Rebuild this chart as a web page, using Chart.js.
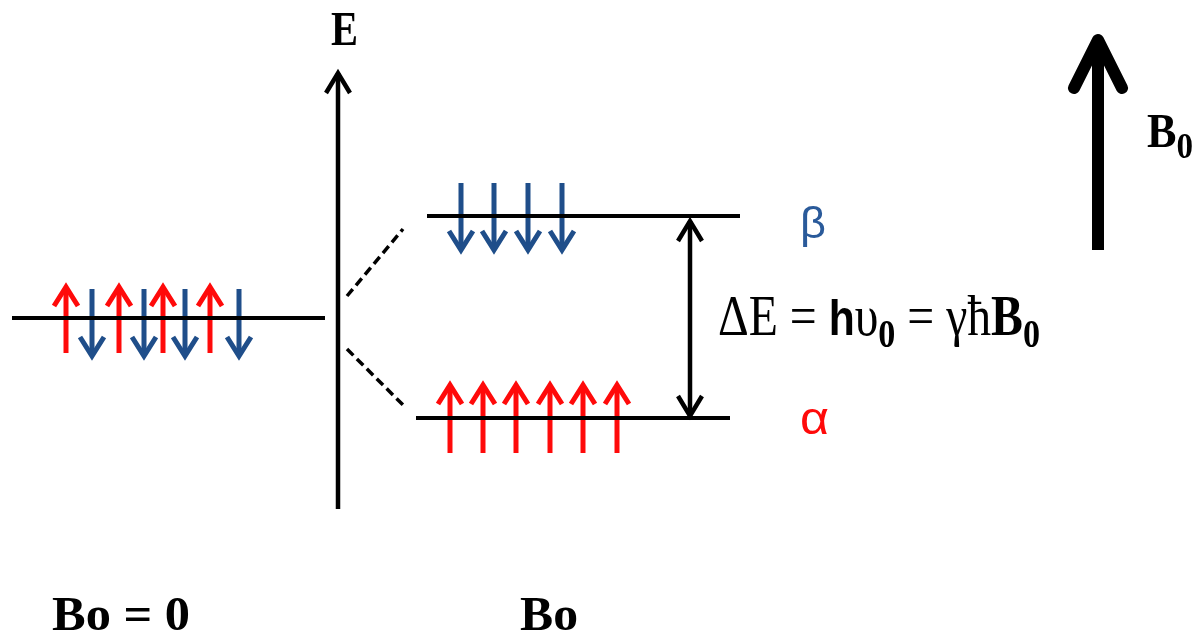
<!DOCTYPE html>
<html><head><meta charset="utf-8">
<script src="https://cdn.jsdelivr.net/npm/chart.js@4"></script>
<style>html,body{margin:0;padding:0;background:#fff}canvas{display:block}</style>
</head><body>
<canvas id="c" width="1203" height="633"></canvas>
<script>
// ---- diagram data (diagram coordinate units) ----
const levelZero = [[12, 318], [325, 318]];
const levelBeta = [[427, 216], [740, 216]];
const levelAlpha = [[416, 418], [730, 418]];
const splitUpper = [[347, 296], [403, 229]];
const splitLower = [[347, 349], [403, 405]];
const energyAxis = [[338, 509], [338, 73]];
const deltaArrow = [[690, 221], [690, 416]];
const fieldArrow = [[1098, 250], [1098, 40]];

const spinsZeroUpX = [66, 119, 163, 210];
const spinsZeroUpY = [353, 287];
const spinsZeroDownX = [92, 144, 185, 239];
const spinsZeroDownY = [289, 356];
const spinsBetaX = [461, 494, 528, 562];
const spinsBetaY = [183, 250];
const spinsAlphaX = [450, 483, 516, 550, 583, 617];
const spinsAlphaY = [453, 385];

const labelE = 'E';
const labelBeta = 'β';
const labelAlpha = 'α';
const labelFormula = ['ΔE = ', 'h', 'υ', '0', ' = γħ', 'B', '0'];
const labelField = ['B', '0'];
const labelZeroField = 'Bo = 0';
const labelField2 = 'Bo';

const RED = '#ff0a0a';
const BLUE = '#1f4e8a';
const BLACK = '#000000';

function pts(arr) { return arr.map(([x, y]) => ({x, y})); }
function lineDs(arr, color, width, extra) {
  return Object.assign({
    data: pts(arr), showLine: true, borderColor: color, backgroundColor: color,
    borderWidth: width, pointRadius: 0, pointHoverRadius: 0, fill: false, tension: 0,
    borderCapStyle: 'butt'
  }, extra || {});
}

const datasets = [];
datasets.push(lineDs(levelZero, BLACK, 4));
datasets.push(lineDs(levelBeta, BLACK, 4));
datasets.push(lineDs(levelAlpha, BLACK, 4));
datasets.push(lineDs(splitUpper, BLACK, 3.5, {borderDash: [9, 5]}));
datasets.push(lineDs(splitLower, BLACK, 3.5, {borderDash: [9, 5]}));
datasets.push(lineDs(energyAxis, BLACK, 4.5, {head: 'end', headHalf: 12, headLen: 20, headWidth: 4.5}));
datasets.push(lineDs(deltaArrow, BLACK, 4.5, {head: 'both', headHalf: 12, headLen: 20, headWidth: 4.5}));
datasets.push(lineDs(fieldArrow, BLACK, 12, {head: 'end', headHalf: 24, headLen: 48, headWidth: 12, headCap: 'round'}));

function spinSet(xs, ys, color) {
  xs.forEach(x => datasets.push(lineDs([[x, ys[0]], [x, ys[1]]], color, 5,
    {head: 'end', headHalf: 12, headLen: 19, headWidth: 5})));
}
spinSet(spinsZeroUpX, spinsZeroUpY, RED);
spinSet(spinsZeroDownX, spinsZeroDownY, BLUE);
spinSet(spinsBetaX, spinsBetaY, BLUE);
spinSet(spinsAlphaX, spinsAlphaY, RED);

const arrowHeads = {
  id: 'arrowHeads',
  afterDatasetsDraw(chart) {
    const ctx = chart.ctx;
    chart.data.datasets.forEach((ds, i) => {
      if (!ds.head) return;
      const meta = chart.getDatasetMeta(i);
      const p = meta.data;
      const draw = (tip, from) => {
        const dx = tip.x - from.x, dy = tip.y - from.y;
        const L = Math.hypot(dx, dy) || 1;
        const ux = dx / L, uy = dy / L, nx = -uy, ny = ux;
        const bx = tip.x - ux * ds.headLen, by = tip.y - uy * ds.headLen;
        ctx.save();
        ctx.strokeStyle = ds.borderColor;
        ctx.lineWidth = ds.headWidth;
        ctx.lineCap = ds.headCap || 'butt';
        ctx.lineJoin = ds.headCap === 'round' ? 'round' : 'miter';
        ctx.miterLimit = 10;
        ctx.beginPath();
        ctx.moveTo(bx + nx * ds.headHalf, by + ny * ds.headHalf);
        ctx.lineTo(tip.x, tip.y);
        ctx.lineTo(bx - nx * ds.headHalf, by - ny * ds.headHalf);
        ctx.stroke();
        ctx.restore();
      };
      const a = p[0], b = p[p.length - 1];
      if (ds.head === 'end' || ds.head === 'both') draw(b, a);
      if (ds.head === 'start' || ds.head === 'both') draw(a, b);
    });
  }
};

const SERIF = '"Liberation Serif", "Times New Roman", serif';
const SANS = '"Liberation Sans", Arial, sans-serif';

// text groups: parts drawn in sequence, fitted to a target width
const textGroups = [
  {x: 331, y: 45, w: 27, parts: [{t: labelE, f: 'bold 48px ' + SERIF}]},
  {x: 800, y: 238, w: 26, color: '#2a5a9a', parts: [{t: labelBeta, f: '44px ' + SANS}]},
  {x: 800, y: 434, w: 29, color: RED, parts: [{t: labelAlpha, f: '46px ' + SANS}]},
  {x: 718, y: 335, w: 322, parts: [
    {t: labelFormula[0], f: '56px ' + SERIF},
    {t: labelFormula[1], f: 'bold 50px ' + SANS},
    {t: labelFormula[2], f: '56px ' + SERIF},
    {t: labelFormula[3], f: 'bold 40px ' + SERIF, dy: 12},
    {t: labelFormula[4], f: '56px ' + SERIF},
    {t: labelFormula[5], f: 'bold 56px ' + SERIF},
    {t: labelFormula[6], f: 'bold 40px ' + SERIF, dy: 12}
  ]},
  {x: 1147, y: 147, w: 46, parts: [
    {t: labelField[0], f: 'bold 48px ' + SERIF},
    {t: labelField[1], f: 'bold 36px ' + SERIF, dy: 11}
  ]},
  {x: 52, y: 630, w: 138, parts: [{t: labelZeroField, f: 'bold 48px ' + SERIF}]},
  {x: 520, y: 630, w: 58, parts: [{t: labelField2, f: 'bold 48px ' + SERIF}]}
];

const textPlugin = {
  id: 'diagramText',
  afterDraw(chart) {
    const ctx = chart.ctx;
    const sx = chart.scales.x, sy = chart.scales.y;
    textGroups.forEach(g => {
      ctx.save();
      let total = 0;
      g.parts.forEach(p => { ctx.font = p.f; total += ctx.measureText(p.t).width; });
      const k = g.w / total;
      ctx.translate(sx.getPixelForValue(g.x), sy.getPixelForValue(g.y));
      ctx.scale(k, 1);
      ctx.fillStyle = g.color || BLACK;
      ctx.textBaseline = 'alphabetic';
      let cx = 0;
      g.parts.forEach(p => {
        ctx.font = p.f;
        ctx.fillText(p.t, cx, p.dy || 0);
        cx += ctx.measureText(p.t).width;
      });
      ctx.restore();
    });
  }
};

new Chart(document.getElementById('c'), {
  type: 'scatter',
  data: {datasets},
  options: {
    responsive: false, animation: false, devicePixelRatio: 1,
    layout: {padding: 0},
    events: [],
    plugins: {legend: {display: false}, tooltip: {enabled: false}},
    scales: {
      x: {type: 'linear', min: 0, max: 1203, display: false},
      y: {type: 'linear', min: 0, max: 633, reverse: true, display: false}
    }
  },
  plugins: [arrowHeads, textPlugin]
});
</script>
</body></html>
